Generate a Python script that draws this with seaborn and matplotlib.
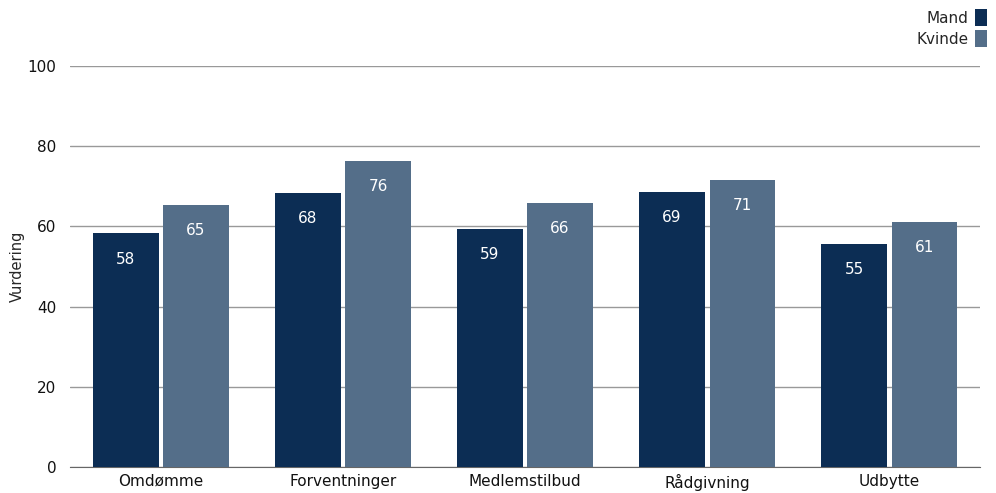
import pandas as pd
import matplotlib.pyplot as plt
import seaborn as sns

# Data
categories = ["Omdømme", "Forventninger", "Medlemstilbud", "Rådgivning", "Udbytte"]
mand = [58.3, 68.3, 59.4, 68.6, 55.6]
kvinde = [65.3, 76.3, 65.8, 71.6, 61.1]
mand_labels = ["58", "68", "59", "69", "55"]
kvinde_labels = ["65", "76", "66", "71", "61"]
groups = ["Mand", "Kvinde"]
colors = {"Mand": "#0c2d54", "Kvinde": "#546e89"}

df = pd.DataFrame({
    "Kategori": categories * 2,
    "Vurdering": mand + kvinde,
    "Køn": ["Mand"] * len(categories) + ["Kvinde"] * len(categories),
})

sns.set_style("white")
plt.rcParams["font.family"] = ["DejaVu Sans"]

fig = plt.figure(figsize=(9.96, 4.93), dpi=100)
ax = fig.add_axes([0.0703, 0.0527, 0.9137, 0.8135])

sns.barplot(data=df, x="Kategori", y="Vurdering", hue="Køn", hue_order=groups,
            palette=colors, width=0.77, gap=0.07, saturation=1, linewidth=0,
            ax=ax, zorder=3)

for cont, labels in zip(ax.containers, [mand_labels, kvinde_labels]):
    ax.bar_label(cont, labels=labels, padding=-24, color="white", fontsize=11)

ax.set_ylim(0, 100)
ax.set_yticks([0, 20, 40, 60, 80, 100])
ax.yaxis.grid(True, color="#999999", linewidth=1, zorder=0)
for s in ["left", "right", "top"]:
    ax.spines[s].set_visible(False)
ax.spines["bottom"].set_color("#666666")
ax.tick_params(axis="both", length=0, labelsize=11, colors="#111111")
ax.tick_params(axis="y", pad=10)
ax.tick_params(axis="x", pad=5)
ax.set_xlabel("")
ax.set_ylabel("Vurdering", fontsize=10.5, labelpad=2)

handles, labels = ax.get_legend_handles_labels()
ax.legend(handles, labels, loc="upper right", bbox_to_anchor=(1.0, 1.0),
          bbox_transform=fig.transFigure, frameon=False, markerfirst=False,
          fontsize=11, handlelength=0.8, handleheight=1.3, handletextpad=0.4,
          labelspacing=0.3, borderaxespad=0.5, borderpad=0.1)

fig.savefig("out.png", dpi=100)
